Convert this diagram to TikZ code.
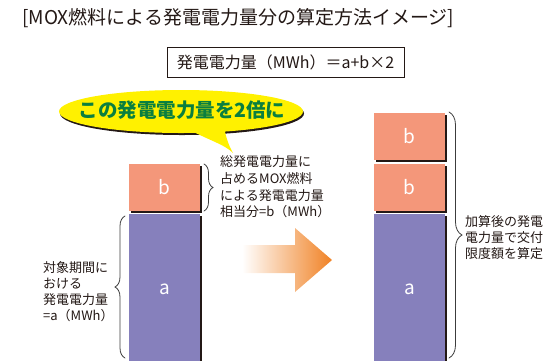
\documentclass[tikz,border=0pt]{standalone}
\usepackage{fontspec}
\setmainfont{Noto Sans CJK JP}
\usetikzlibrary{decorations.pathreplacing,shadows,shapes.geometric}
\definecolor{salmon}{HTML}{F4977A}
\definecolor{purplebar}{HTML}{8680BC}
\definecolor{bubbleyellow}{HTML}{FFF100}
\definecolor{bubblegreen}{HTML}{0A7F3F}
\definecolor{shadowc}{HTML}{231815}
\definecolor{textc}{HTML}{231815}
\definecolor{bracec}{HTML}{3C3C3C}
\definecolor{arrowor}{HTML}{F08225}
\begin{document}
\begin{tikzpicture}[x=1pt,y=-1pt,
  bar/.style={minimum width=71pt, inner sep=0pt, text=white,
    font=\fontsize{19}{19}\selectfont,
    general shadow={fill=shadowc, shadow xshift=2pt, shadow yshift=-2pt}},
  bbar/.style={bar, fill=salmon, minimum height=47pt},
  abar/.style={bar, fill=purplebar, minimum height=151pt},
  lbl/.style={inner sep=0pt, align=left, text=textc},
  bracedraw/.style={draw=bracec, line width=0.8pt, line cap=round,
    decorate, decoration={brace, amplitude=#1, aspect=0.5}},
]
\useasboundingbox (0,0) rectangle (557,360);

% title
\node[anchor=west, inner sep=0pt, text=textc, font=\fontsize{19}{19}\selectfont] (title) at (22,18)
  {[MOX燃料による発電電力量分の算定方法イメージ]};

% formula
\node[draw=textc, line width=1pt, minimum width=237pt, minimum height=30pt, inner sep=0pt,
  text=textc, font=\fontsize{16}{16}\selectfont] (formula) at (285.5,62)
  {発電電力量（MWh）＝a+b×2};

% speech bubble
\node[ellipse, fill=bubbleyellow, minimum width=244pt, minimum height=43pt, inner sep=0pt,
  general shadow={fill=shadowc, shadow xshift=1pt, shadow yshift=-2pt}] (bubble) at (181,111.5) {};
\coordinate (tailL) at (184,127);
\coordinate (tailR) at (224,127);
\coordinate (tailTip) at (233,153);
\fill[bubbleyellow] (tailL) .. controls (210,141) and (224,144) .. (tailTip)
  .. controls (229,146) and (226,138) .. (tailR) -- cycle;
\node[inner sep=0pt, text=bubblegreen, font=\fontsize{19.5}{19.5}\selectfont\bfseries] (bubbletext) at (182,110)
  {この発電電力量を2倍に};

% left stack
\node[bbar] (lb) at (164.5,187.5) {b};
\node[abar] (la) at (164.5,289.5) {a};

% right stack
\node[bbar] (rb1) at (409.5,136.5) {b};
\node[bbar] (rb2) at (409.5,187.5) {b};
\node[abar] (ra) at (409.5,289.5) {a};

% arrow
\shade[left color=white, right color=arrowor]
  (242,245) -- (295,245) -- (295,228) -- (332,260) -- (295,292) -- (295,273) -- (242,273) -- cycle;

% braces
\coordinate (lbTop) at (204,164);
\coordinate (lbBot) at (204,211);
\draw[bracedraw=9pt] (lbTop) -- (lbBot);

\coordinate (laTop) at (125,216);
\coordinate (laBot) at (125,358);
\draw[bracedraw=10pt] (laBot) -- (laTop);

\coordinate (rTop) at (449,112);
\coordinate (rBot) at (449,358);
\draw[bracedraw=13pt] (rTop) -- (rBot);

% labels
\node[lbl, anchor=west, font=\fontsize{13}{16.6}\selectfont] (lblb) at (220,187)
  {総発電電力量に\\占めるMOX燃料\\による発電電力量\\相当分=b（MWh）};
\node[lbl, anchor=west, font=\fontsize{13}{15.8}\selectfont] (lbla) at (43,291.5)
  {対象期間に\\おける\\発電電力量\\=a（MWh）};
\node[lbl, anchor=west, font=\fontsize{13}{16}\selectfont] (lblr) at (465,238)
  {加算後の発電\\電力量で交付\\限度額を算定};
\end{tikzpicture}
\end{document}
